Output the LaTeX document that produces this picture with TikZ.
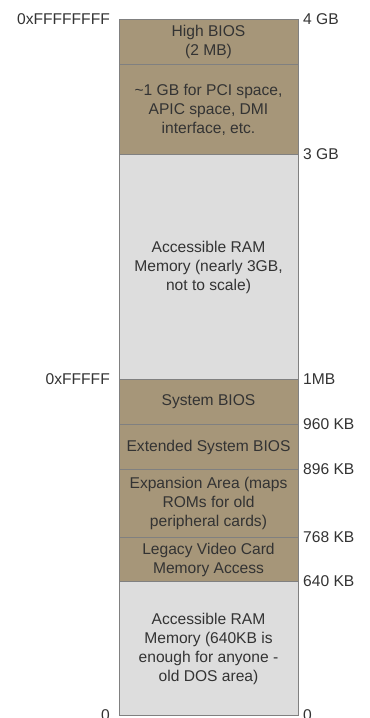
\documentclass[tikz,border=0pt]{standalone}
\usepackage{fontspec}
\setmainfont{Liberation Sans}
\definecolor{romc}{RGB}{166,150,121}
\definecolor{ramc}{RGB}{221,221,221}
\definecolor{edgec}{RGB}{128,128,128}
\definecolor{ink}{RGB}{51,51,51}
\begin{document}
\begin{tikzpicture}[x=1bp,y=-1bp,
  font=\fontsize{15.6bp}{19bp}\selectfont, text=ink,
  region/.style={draw=edgec, line width=1bp, minimum width=179bp, inner sep=0pt, align=center, anchor=north west},
  rom/.style={region, fill=romc},
  ram/.style={region, fill=ramc},
  lbl/.style={anchor=base west, inner sep=0pt},
  lbr/.style={anchor=base east, inner sep=0pt}]
\useasboundingbox (0,0) rectangle (369,718);
\node[rom, minimum height=45bp] (hb) at (118.5,19) {High BIOS\\(2 MB)};
\node[rom, minimum height=90bp] (pci) at (118.5,64) {\textasciitilde1 GB for PCI space,\\APIC space, DMI\\interface, etc.};
\node[ram, minimum height=225bp] (hi) at (118.5,154) {Accessible RAM\\Memory (nearly 3GB,\\not to scale)};
\node[rom, minimum height=45bp] (sb) at (118.5,379) {System BIOS};
\node[rom, minimum height=45bp] (esb) at (118.5,424) {Extended System BIOS};
\node[rom, minimum height=68bp] (exp) at (118.5,469) {Expansion Area (maps\\ROMs for old\\peripheral cards)};
\node[rom, minimum height=44bp] (vid) at (118.5,537) {Legacy Video Card\\Memory Access};
\node[ram, minimum height=134bp] (dos) at (118.5,581) {Accessible RAM\\Memory (640KB is\\enough for anyone -\\old DOS area)};
% right labels
\node[lbl] (r4g) at (303,24.6) {4 GB};
\node[lbl] (r3g) at (303,159.6) {3 GB};
\node[lbl] (r1m) at (303,384.6) {1MB};
\node[lbl] (r960) at (303,429.6) {960 KB};
\node[lbl] (r896) at (303,474.6) {896 KB};
\node[lbl] (r768) at (303,542.6) {768 KB};
\node[lbl] (r640) at (303,586.6) {640 KB};
\node[lbl] (r0) at (303,720.6) {0};
% left labels
\node[lbr] (l4g) at (110,24.6) {0xFFFFFFFF};
\node[lbr] (l1m) at (110,384.6) {0xFFFFF};
\node[lbr] (l0) at (110,720.6) {0};
\end{tikzpicture}
\end{document}
